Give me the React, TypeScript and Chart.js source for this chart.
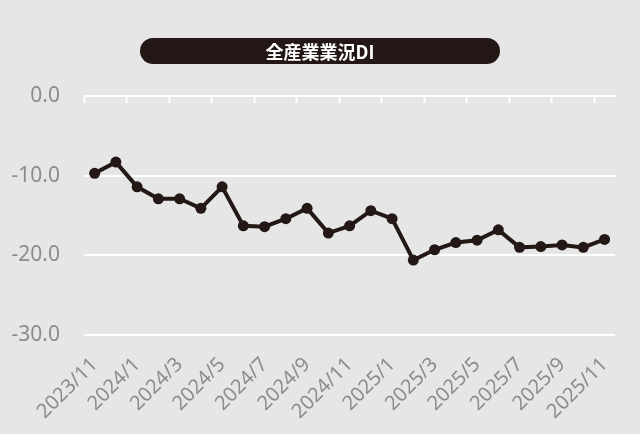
import React, { useEffect, useRef } from "react";
import { Chart, registerables } from "chart.js";

Chart.register(...registerables);

const months: string[] = [
  "2023/11", "2023/12", "2024/1", "2024/2", "2024/3", "2024/4", "2024/5", "2024/6", "2024/7",
  "2024/8", "2024/9", "2024/10", "2024/11", "2024/12", "2025/1", "2025/2", "2025/3", "2025/4",
  "2025/5", "2025/6", "2025/7", "2025/8", "2025/9", "2025/10", "2025/11",
];
const diValues: number[] = [
  -9.7, -8.3, -11.4, -12.9, -12.9, -14.1, -11.4, -16.3, -16.4, -15.4, -14.1, -17.2, -16.3,
  -14.4, -15.4, -20.6, -19.3, -18.4, -18.1, -16.8, -19.0, -18.9, -18.7, -19.0, -18.0,
];
const titleText = "全産業業況DI";
const yTickValues: number[] = [0, -10, -20, -30];

const INK = "#231815";
const BG = "#e6e6e6";

const topTicksPlugin = {
  id: "topTicks",
  afterDraw(chart: any) {
    const x = chart.scales.x;
    const y = chart.scales.y;
    const ctx = chart.ctx;
    const top = y.getPixelForValue(0);
    const half = (x.getPixelForValue(1) - x.getPixelForValue(0)) / 2;
    ctx.save();
    ctx.strokeStyle = "#ffffff";
    ctx.lineWidth = 2;
    ctx.beginPath();
    ctx.moveTo(x.getPixelForValue(0) - half, top);
    ctx.lineTo(x.getPixelForValue(months.length - 1) + half, top);
    ctx.stroke();
    for (let i = 0; i < months.length; i += 2) {
      const px = Math.round(x.getPixelForValue(i) - half) + 0.5;
      ctx.beginPath();
      ctx.moveTo(px, top);
      ctx.lineTo(px, top + 7);
      ctx.stroke();
    }
    ctx.restore();
  },
};

export default function App() {
  const ref = useRef<HTMLCanvasElement | null>(null);
  useEffect(() => {
    if (!ref.current) return;
    const chart = new Chart(ref.current, {
      type: "line",
      data: {
        labels: months,
        datasets: [
          {
            data: diValues,
            borderColor: INK,
            backgroundColor: INK,
            borderWidth: 4,
            pointRadius: 5.5,
            pointBackgroundColor: INK,
            pointBorderColor: INK,
            pointBorderWidth: 0,
            tension: 0,
            clip: false as any,
          },
        ],
      },
      options: {
        animation: false,
        responsive: false,
        maintainAspectRatio: false,
        layout: { padding: { top: 96, right: 23, left: 0, bottom: 0 } },
        plugins: { legend: { display: false }, title: { display: false }, tooltip: { enabled: false } },
        scales: {
          x: {
            offset: true,
            grid: { display: false, drawTicks: false },
            border: { display: false },
            ticks: {
              autoSkip: false,
              maxRotation: 45,
              minRotation: 45,
              padding: 18,
              color: "#8c8c8c",
              font: { family: "'Noto Sans', sans-serif", size: 20 },
              callback: (_v: any, i: number) => (i % 2 === 0 ? months[i] : ""),
            },
            afterFit: (s: any) => {
              s.height = 99;
            },
          },
          y: {
            min: -30,
            max: 0,
            afterBuildTicks: (s: any) => {
              s.ticks = yTickValues.map((v) => ({ value: v }));
            },
            grid: {
              color: (c: any) => (c.tick && c.tick.value === 0 ? "rgba(0,0,0,0)" : "#ffffff"),
              lineWidth: 2,
              drawTicks: false,
            },
            border: { display: false },
            ticks: {
              padding: 24,
              color: "#8c8c8c",
              font: { family: "'Noto Sans', sans-serif", size: 21 },
              callback: (v: any) => Number(v).toFixed(1),
            },
            afterFit: (s: any) => {
              s.width = 84;
            },
          },
        },
      },
      plugins: [topTicksPlugin],
    });
    return () => chart.destroy();
  }, []);

  return (
    <div style={{ position: "fixed", left: 0, top: 0, width: 640, height: 434, background: BG }}>
      <canvas ref={ref} width={640} height={434} style={{ position: "absolute", left: 0, top: 0 }} />
      <div
        style={{
          position: "absolute",
          left: 140,
          top: 38,
          width: 360,
          height: 26,
          borderRadius: 13,
          background: INK,
          color: "#ffffff",
          fontFamily: "'Noto Sans CJK JP', 'Noto Sans', sans-serif",
          fontWeight: 700,
          fontSize: 18,
          lineHeight: "26px",
          textAlign: "center",
        }}
      >
        {titleText}
      </div>
    </div>
  );
}
